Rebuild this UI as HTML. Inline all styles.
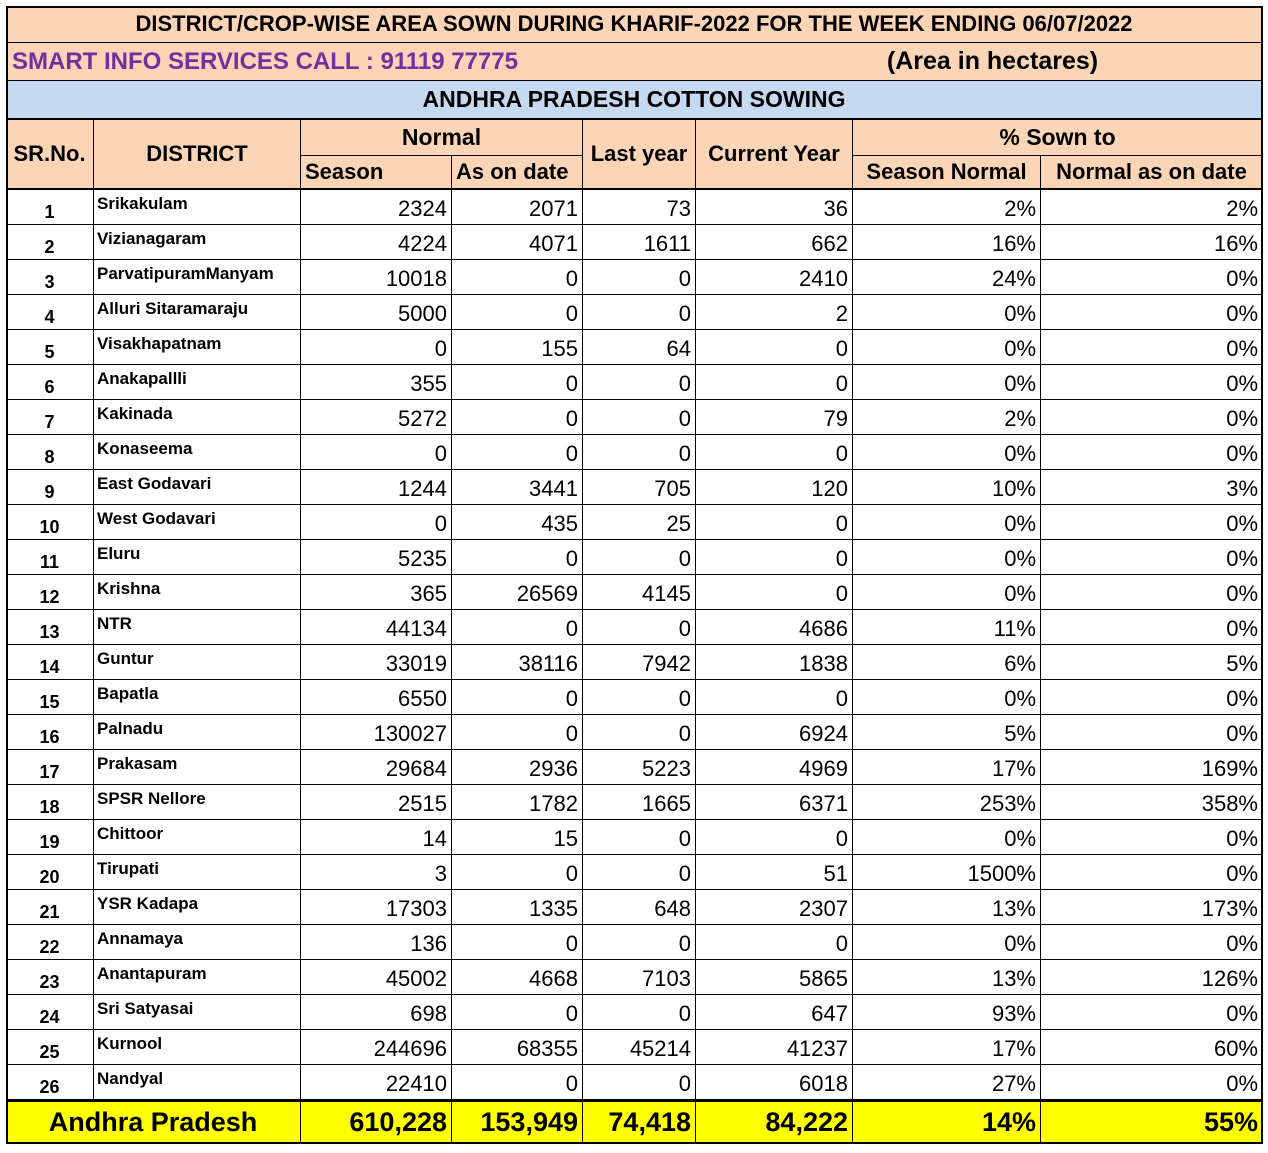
<!DOCTYPE html>
<html><head><meta charset="utf-8">
<style>
html,body{margin:0;padding:0;background:#fff;}
body{width:1268px;height:1153px;position:relative;overflow:hidden;font-family:"Liberation Sans",sans-serif;}
.c{position:absolute;box-sizing:border-box;border-right:1px solid #000;border-bottom:1px solid #000;display:flex;align-items:center;white-space:nowrap;overflow:hidden;color:#000;}
.pe{background:#fbd5b5;}
.bl{background:#c5d9f1;}
.ye{background:#ffff00;}
.r{justify-content:flex-end;padding-right:4px;font-size:22px;}
.ctr{justify-content:center;}
.hd{font-weight:bold;font-size:22px;}
#frame{position:absolute;left:6px;top:6px;width:1257px;height:1138px;border:2px solid #000;box-sizing:border-box;pointer-events:none;}
</style></head><body>
<div id="t"></div>
<div id="frame"></div>
<script>
const districts=["Srikakulam","Vizianagaram","ParvatipuramManyam","Alluri Sitaramaraju","Visakhapatnam","Anakapallli","Kakinada","Konaseema","East Godavari","West Godavari","Eluru","Krishna","NTR","Guntur","Bapatla","Palnadu","Prakasam","SPSR Nellore","Chittoor","Tirupati","YSR Kadapa","Annamaya","Anantapuram","Sri Satyasai","Kurnool","Nandyal"];
const season=[2324,4224,10018,5000,0,355,5272,0,1244,0,5235,365,44134,33019,6550,130027,29684,2515,14,3,17303,136,45002,698,244696,22410];
const asOnDate=[2071,4071,0,0,155,0,0,0,3441,435,0,26569,0,38116,0,0,2936,1782,15,0,1335,0,4668,0,68355,0];
const lastYear=[73,1611,0,0,64,0,0,0,705,25,0,4145,0,7942,0,0,5223,1665,0,0,648,0,7103,0,45214,0];
const currentYear=[36,662,2410,2,0,0,79,0,120,0,0,0,4686,1838,0,6924,4969,6371,0,51,2307,0,5865,647,41237,6018];
const pctSeason=["2%","16%","24%","0%","0%","0%","2%","0%","10%","0%","0%","0%","11%","6%","0%","5%","17%","253%","0%","1500%","13%","0%","13%","93%","17%","27%"];
const pctDate=["2%","16%","0%","0%","0%","0%","0%","0%","3%","0%","0%","0%","0%","5%","0%","0%","169%","358%","0%","0%","173%","0%","126%","0%","60%","0%"];
const totals=["610,228","153,949","74,418","84,222","14%","55%"];

const X=[6,94,301,452,583,696,853,1041,1263];
const t=document.getElementById('t');
function cell(x1,y1,x2,y2,cls,txt,name,style){
  const d=document.createElement('div');
  d.className='c '+cls;
  d.style.left=x1+'px';d.style.top=y1+'px';d.style.width=(x2-x1)+'px';d.style.height=(y2-y1)+'px';
  if(style)d.style.cssText+=style;
  d.textContent=txt;
  
  
  t.appendChild(d);return d;
}
cell(6,6,1263,43,'pe ctr hd','DISTRICT/CROP-WISE AREA SOWN DURING KHARIF-2022 FOR THE WEEK ENDING 06/07/2022','title','font-size:22px;');
cell(6,43,1263,81,'pe','','subtitle-row');
cell(6,43,700,80,'pe hd','SMART INFO SERVICES CALL : 91119 77775','smart-info-label','border:none;color:#7030a0;padding-left:6px;font-size:24px;background:transparent;');
cell(835,43,1150,80,'pe hd','(Area in hectares)','units-label','border:none;justify-content:center;font-size:25px;background:transparent;');
cell(6,81,1263,120,'bl ctr hd','ANDHRA PRADESH COTTON SOWING','state-heading','font-size:23px;border-bottom:2px solid #000;');
cell(6,120,94,190,'pe ctr hd','SR.No.','header-srno','border-bottom:2px solid #000;');
cell(94,120,301,190,'pe ctr hd','DISTRICT','header-district','border-bottom:2px solid #000;');
cell(301,120,583,156,'pe ctr hd','Normal','header-normal','font-size:23px;');
cell(301,156,452,190,'pe hd','Season','header-season','padding-left:4px;border-bottom:2px solid #000;');
cell(452,156,583,190,'pe hd','As on date','header-as-on-date','padding-left:4px;border-bottom:2px solid #000;');
cell(583,120,696,190,'pe ctr hd','Last year','header-last-year','border-bottom:2px solid #000;');
cell(696,120,853,190,'pe ctr hd','Current Year','header-current-year','border-bottom:2px solid #000;');
cell(853,120,1263,156,'pe ctr hd','% Sown to','header-pct-sown','font-size:23px;');
cell(853,156,1041,190,'pe ctr hd','Season Normal','header-season-normal','border-bottom:2px solid #000;');
cell(1041,156,1263,190,'pe ctr hd','Normal as on date','header-normal-as-on-date','border-bottom:2px solid #000;');
const cols=[season,asOnDate,lastYear,currentYear,pctSeason,pctDate];
const colNames=['season','as-on-date','last-year','current-year','pct-season-normal','pct-normal-as-on-date'];
for(let i=0;i<districts.length;i++){
  const y1=190+i*35,y2=y1+35;
  cell(6,y1,94,y2,'ctr',String(i+1),'sr-no-'+(i+1),'font-size:18px;font-weight:bold;padding-top:10px;');
  cell(94,y1,301,y2,'',districts[i],'district-'+(i+1),'font-size:17px;font-weight:bold;padding-left:3px;align-items:flex-start;padding-top:4px;');
  for(let k=0;k<6;k++){
    cell(X[k+2],y1,X[k+3],y2,'r',String(cols[k][i]),colNames[k]+'-'+(i+1),'padding-top:4px;');
  }
}
const yt=1100;
cell(6,yt,301,1144,'ye ctr hd','Andhra Pradesh','total-label','font-size:27px;border-top:2px solid #000;');
for(let k=0;k<6;k++){
  cell(X[k+2],yt,X[k+3],1144,'ye r hd',totals[k],'total-'+colNames[k],'font-size:27px;border-top:2px solid #000;');
}
</script>
</body></html>
